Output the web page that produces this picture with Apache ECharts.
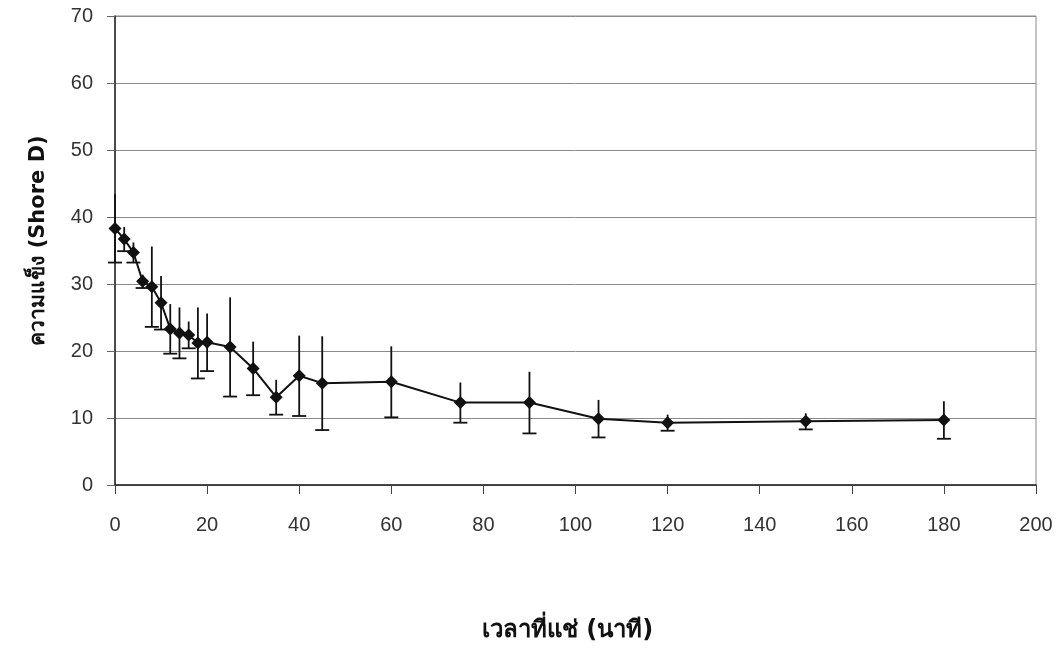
<!DOCTYPE html>
<html>
<head>
<meta charset="utf-8">
<script src="https://cdn.jsdelivr.net/npm/echarts@6/dist/echarts.min.js"></script>
<style>
  html, body { margin: 0; padding: 0; background: #fff; }
  #chart { width: 1063px; height: 658px; }
</style>
</head>
<body>
<div id="chart"></div>
<script>
// Immersion time (minutes)
const times = [0, 2, 4, 6, 8, 10, 12, 14, 16, 18, 20, 25, 30, 35, 40, 45, 60, 75, 90, 105, 120, 150, 180];
// Mean hardness (Shore D)
const hardness = [38.3, 36.7, 34.7, 30.4, 29.6, 27.2, 23.3, 22.7, 22.4, 21.2, 21.3, 20.6, 17.4, 13.1, 16.3, 15.2, 15.4, 12.3, 12.3, 9.9, 9.3, 9.5, 9.7];
// Standard deviation of each mean
const sd = [5.1, 1.8, 1.5, 1.0, 6.0, 4.0, 3.7, 3.8, 2.0, 5.3, 4.3, 7.4, 4.0, 2.6, 6.0, 7.0, 5.3, 3.0, 4.6, 2.8, 1.2, 1.2, 2.8];

const xTicks = [0, 20, 40, 60, 80, 100, 120, 140, 160, 180, 200];
const yTicks = [0, 10, 20, 30, 40, 50, 60, 70];

const meanData = times.map((t, i) => [t, hardness[i]]);
const errData = times.map((t, i) => [t, hardness[i] - sd[i], hardness[i] + sd[i]]);

const labelFont = "'Liberation Sans Narrow', 'Liberation Sans', Arial, sans-serif";
const titleFont = "Tahoma, 'DejaVu Sans', 'Noto Sans', sans-serif";

const chart = echarts.init(document.getElementById('chart'), null, { renderer: 'canvas' });

chart.setOption({
  animation: false,
  backgroundColor: '#ffffff',
  grid: {
    left: 115, right: 27, top: 16, bottom: 173,
    show: true, borderColor: '#8a8a8a', borderWidth: 1, backgroundColor: 'transparent'
  },
  xAxis: {
    type: 'value',
    min: xTicks[0], max: xTicks[xTicks.length - 1], interval: 20,
    name: 'เวลาที่แช่ (นาที)',
    nameLocation: 'middle',
    nameGap: 134,
    nameTextStyle: { fontFamily: titleFont, fontSize: 24, fontWeight: 'bold', color: '#111', padding: [0, 16, 0, 0] },
    axisLine: { lineStyle: { color: '#222', width: 1.5 } },
    axisTick: { show: true, inside: false, length: 9, lineStyle: { color: '#444', width: 1 } },
    axisLabel: { margin: 30, fontFamily: labelFont, fontSize: 20, color: '#333' },
    splitLine: { show: false }
  },
  yAxis: {
    type: 'value',
    min: yTicks[0], max: yTicks[yTicks.length - 1], interval: 10,
    name: 'ความแข็ง (Shore D)',
    nameLocation: 'middle',
    nameGap: 66,
    nameTextStyle: { fontFamily: titleFont, fontSize: 21, fontWeight: 'bold', color: '#111', padding: [0, 0, 0, 20] },
    axisLine: { show: true, lineStyle: { color: '#222', width: 1.5 } },
    axisTick: { show: true, inside: false, length: 8, lineStyle: { color: '#666', width: 1 } },
    axisLabel: { margin: 22, fontFamily: labelFont, fontSize: 20, color: '#333' },
    splitLine: { show: true, lineStyle: { color: '#8a8a8a', width: 1 } }
  },
  series: [
    {
      // Error bars: full vertical range, cap on the lower end
      type: 'custom',
      name: 'sd',
      z: 3,
      data: errData,
      renderItem: function (params, api) {
        const x = api.value(0);
        const lo = api.coord([x, api.value(1)]);
        const hi = api.coord([x, api.value(2)]);
        const half = 7;
        const style = { stroke: '#111', lineWidth: 1.8 };
        return {
          type: 'group',
          children: [
            { type: 'line', shape: { x1: lo[0], y1: lo[1], x2: hi[0], y2: hi[1] }, style: style },
            { type: 'line', shape: { x1: lo[0] - half, y1: lo[1], x2: lo[0] + half, y2: lo[1] }, style: style }
          ]
        };
      }
    },
    {
      type: 'line',
      name: 'hardness',
      z: 4,
      data: meanData,
      symbol: 'diamond',
      symbolSize: 13,
      itemStyle: { color: '#111' },
      lineStyle: { color: '#111', width: 2 }
    }
  ]
});
</script>
</body>
</html>
